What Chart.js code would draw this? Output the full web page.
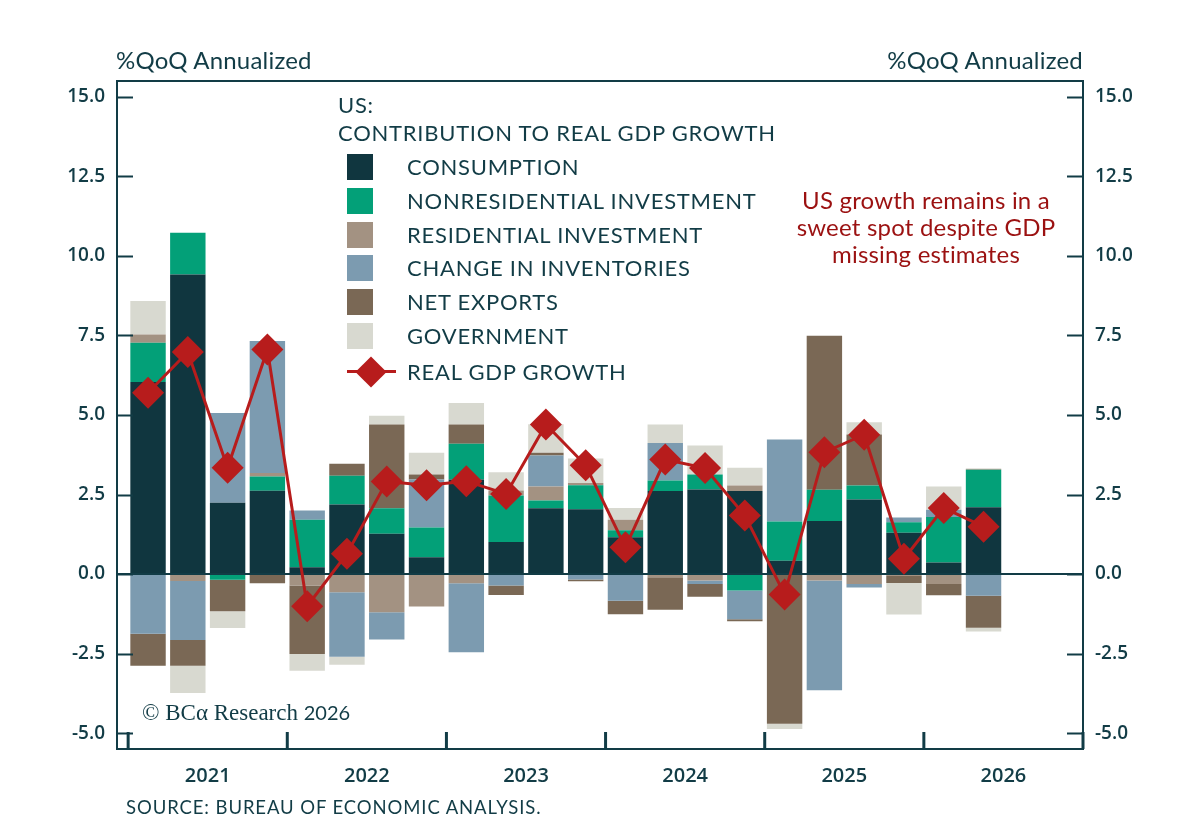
<!DOCTYPE html>
<html lang="en">
<head>
<meta charset="UTF-8">
<title>US: Contribution to Real GDP Growth</title>
<script src="https://cdn.jsdelivr.net/npm/chart.js"></script>
<style>
body { margin: 0; background: #fff; }
#wrap { position: relative; width: 1200px; height: 830px; font-family: Lato, "Open Sans", sans-serif; color: #123c46; }
#myChart { position: absolute; left: 0; top: 0; }
.txt { position: absolute; white-space: nowrap; line-height: 1; }
.unit { top: 48px; font-size: 24px; letter-spacing: 0.2px; }
.lg-box { position: absolute; left: 347px; width: 26px; height: 26px; }
.lg-txt { position: absolute; left: 407px; font-size: 22px; white-space: nowrap; line-height: 26px; letter-spacing: 0.75px; }
#note { left: 780px; top: 186px; width: 292px; text-align: center; font-size: 24px; line-height: 27px; letter-spacing: 0.2px; color: #9b1111; white-space: normal; }
</style>
</head>
<body>
<div id="wrap">
<canvas id="myChart" width="1200" height="830"></canvas>
<div class="txt unit" style="left:116px">%QoQ Annualized</div>
<div class="txt unit" style="right:117px">%QoQ Annualized</div>
<div class="txt" style="left:338px; top:91px; font-size:22px; line-height:28px; letter-spacing:0.75px">US:<br>CONTRIBUTION TO REAL GDP GROWTH</div>
<div id="legend"></div>
<div class="txt" id="note">US growth remains in a sweet spot despite GDP missing estimates</div>
<div class="txt" style="left:142px; top:701px; font-size:23px; font-family:'Liberation Serif', serif">© BCα Research <span style="font-family:Lato, sans-serif; font-size:20px">2026</span></div>
<div class="txt" style="left:126px; top:798px; font-size:18.5px; letter-spacing:0.9px">SOURCE: BUREAU OF ECONOMIC ANALYSIS.</div>
</div>

<script>
// quarters 2021Q1 .. 2026Q2
const quarters = ['2021Q1','2021Q2','2021Q3','2021Q4','2022Q1','2022Q2','2022Q3','2022Q4',
  '2023Q1','2023Q2','2023Q3','2023Q4','2024Q1','2024Q2','2024Q3','2024Q4',
  '2025Q1','2025Q2','2025Q3','2025Q4','2026Q1','2026Q2'];
const years = ['2021','2022','2023','2024','2025','2026'];

const consumption = [6.04, 9.42, 2.24, 2.62, 0.21, 2.19, 1.27, 0.53, 2.97, 1.01, 2.07, 2.04, 1.16, 2.61, 2.66, 2.61, 0.42, 1.67, 2.34, 1.30, 0.36, 2.10];
const nonresInvestment = [1.23, 1.31, -0.18, 0.45, 1.50, 0.90, 0.80, 0.93, 1.13, 1.46, 0.24, 0.75, 0.22, 0.33, 0.47, -0.52, 1.23, 0.98, 0.44, 0.33, 1.43, 1.18];
const resInvestment = [0.26, -0.22, 0.00, 0.11, -0.36, -0.57, -1.20, -1.02, -0.29, 0.16, 0.44, 0.07, 0.33, -0.10, -0.20, 0.17, 0.00, -0.20, -0.31, -0.06, -0.31, 0.03];
const inventories = [-1.88, -1.85, 2.82, 4.15, 0.29, -2.03, -0.86, 1.51, -2.17, -0.36, 0.98, -0.17, -0.84, 1.18, -0.11, -0.90, 2.58, -3.45, -0.11, 0.15, 0.23, -0.68];
const netExports = [-1.00, -0.81, -0.99, -0.29, -2.15, 0.38, 2.63, 0.16, 0.60, -0.30, 0.08, -0.06, -0.42, -1.02, -0.40, -0.06, -4.71, 4.84, 1.61, -0.22, -0.36, -1.01];
const government = [1.05, -0.86, -0.53, 0.00, -0.53, -0.25, 0.28, 0.68, 0.68, 0.57, 0.90, 0.77, 0.37, 0.58, 0.91, 0.56, -0.16, 0.00, 0.38, -0.99, 0.73, -0.12];
const realGdp = [5.70, 6.98, 3.34, 7.06, -1.01, 0.64, 2.91, 2.79, 2.92, 2.52, 4.70, 3.42, 0.84, 3.60, 3.33, 1.84, -0.64, 3.83, 4.38, 0.48, 2.08, 1.49];

const yTicks = [-5, -2.5, 0, 2.5, 5, 7.5, 10, 12.5, 15];

const ink = '#123c46';
const seriesNames = ['CONSUMPTION', 'NONRESIDENTIAL INVESTMENT', 'RESIDENTIAL INVESTMENT',
  'CHANGE IN INVENTORIES', 'NET EXPORTS', 'GOVERNMENT'];
const seriesColors = ['#10363f', '#03a078', '#a39282', '#7c9bb0', '#7a6855', '#d8d9d0'];
const seriesData = [consumption, nonresInvestment, resInvestment, inventories, netExports, government];
const gdpColor = '#b71c1c';

// html legend
const legend = document.getElementById('legend');
seriesNames.forEach((name, i) => {
    const top = 154 + i * 33.8;
    legend.insertAdjacentHTML('beforeend',
      `<div class="lg-box" style="top:${top}px;background:${seriesColors[i]}"></div>` +
      `<div class="lg-txt" style="top:${top}px">${name}</div>`);
});
legend.insertAdjacentHTML('beforeend',
  `<div style="position:absolute;left:347px;top:370px;width:49px;height:3px;background:${gdpColor}"></div>` +
  `<div style="position:absolute;left:360px;top:361px;width:22px;height:22px;background:${gdpColor};transform:rotate(45deg)"></div>` +
  `<div class="lg-txt" style="top:359px">REAL GDP GROWTH</div>`);

const toXY = arr => arr.map((v, i) => ({ x: i + 0.5, y: v }));

const datasets = [{
    type: 'line',
    label: 'REAL GDP GROWTH',
    data: toXY(realGdp),
    stack: 'gdp',
    order: 0,
    borderColor: gdpColor,
    backgroundColor: gdpColor,
    borderWidth: 3,
    tension: 0,
    pointStyle: 'rectRot',
    pointRadius: 16,
    pointBorderWidth: 0
}];
seriesNames.forEach((name, i) => {
    datasets.push({
        type: 'bar',
        label: name,
        data: toXY(seriesData[i]),
        stack: 'gdp-parts',
        order: 1,
        backgroundColor: seriesColors[i],
        borderWidth: 0,
        categoryPercentage: 1,
        barPercentage: 0.89
    });
});

// frame, inward ticks, year boundary ticks, zero line
const framePlugin = {
    id: 'frame',
    beforeDatasetDraw(chart, args) {
        if (args.meta.type !== 'line') return;
        const { ctx, chartArea: a } = chart;
        const y0 = chart.scales.y.getPixelForValue(0);
        ctx.save();
        ctx.strokeStyle = ink;
        ctx.lineWidth = 2;
        ctx.beginPath();
        ctx.moveTo(a.left, y0);
        ctx.lineTo(a.right, y0);
        ctx.stroke();
        ctx.restore();
    },
    afterDraw(chart) {
        const { ctx, chartArea: a, scales } = chart;
        ctx.save();
        ctx.strokeStyle = ink;
        ctx.lineWidth = 2;
        ctx.strokeRect(a.left, a.top, a.right - a.left, a.bottom - a.top);
        yTicks.forEach(v => {
            const py = Math.round(scales.y.getPixelForValue(v)) + 0.5;
            ctx.beginPath();
            ctx.moveTo(a.left, py); ctx.lineTo(a.left + 16, py);
            ctx.moveTo(a.right, py); ctx.lineTo(a.right - 16, py);
            ctx.stroke();
        });
        ctx.lineWidth = 3;
        for (let q = 0; q <= quarters.length + 2; q += 4) {
            const px = scales.x.getPixelForValue(q);
            ctx.beginPath();
            ctx.moveTo(px, a.bottom); ctx.lineTo(px, a.bottom - 17);
            ctx.stroke();
        }
        ctx.restore();
    }
};

const tickFont = { family: 'Open Sans', size: 19, weight: '600' };
const yAxis = (pos) => ({
    position: pos,
    min: -5.5,
    max: 15.5,
    stacked: true,
    grid: { display: false, drawTicks: false },
    border: { display: false },
    afterBuildTicks: s => { s.ticks = yTicks.map(v => ({ value: v })); },
    afterFit: s => { s.width = 117; },
    ticks: { color: ink, font: tickFont, padding: 12, callback: v => v.toFixed(1) }
});

const ctx = document.getElementById('myChart').getContext('2d');
const myChart = new Chart(ctx, {
    data: { datasets: datasets },
    plugins: [framePlugin],
    options: {
        responsive: false,
        animation: false,
        devicePixelRatio: 1,
        layout: { padding: { top: 81, left: 0, right: 0, bottom: 0 } },
        plugins: { legend: { display: false }, tooltip: { enabled: false } },
        scales: {
            x: {
                type: 'linear',
                offset: false,
                min: -0.28,
                max: 24,
                stacked: true,
                grid: { display: false, drawTicks: false },
                border: { display: false },
                afterBuildTicks: s => { s.ticks = years.map((y, i) => ({ value: 2 + 4 * i })); },
                afterFit: s => { s.height = 81; },
                ticks: { color: ink, font: { family: 'Open Sans', size: 20, weight: '600' }, padding: 15,
                         maxRotation: 0, autoSkip: false, callback: (v, i) => years[i] }
            },
            y: yAxis('left'),
            y2: yAxis('right')
        }
    }
});
</script>
</body>
</html>
